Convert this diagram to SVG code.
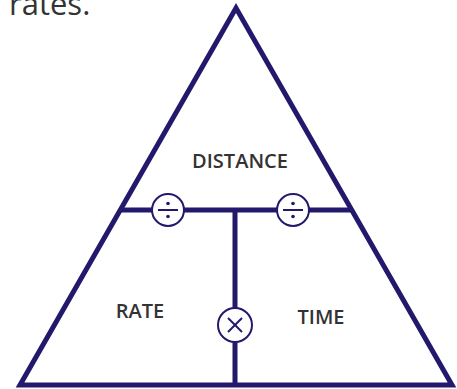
<svg xmlns="http://www.w3.org/2000/svg" width="457" height="389" viewBox="0 0 457 389">
<style>
.edge{fill:none;stroke:#23196c;stroke-width:5}
.op{fill:#fff;stroke:#23196c;stroke-width:2}
.sym{fill:none;stroke:#23196c;stroke-width:2}
.dot{fill:#23196c}
.lbl{font-family:"Open Sans","Liberation Sans",sans-serif;font-weight:600;font-size:20px;fill:#333;text-anchor:middle}
.cap{font-family:"Open Sans","Liberation Sans",sans-serif;font-size:31px;fill:#333}
</style>
<rect width="457" height="389" fill="#fff"/>
<text class="cap" x="9" y="15">rates.</text>
<g id="connectors">
<polygon class="edge" points="20,385 236,8 452,385" stroke-linejoin="miter"/>
<line class="edge" x1="120" y1="210" x2="352" y2="210"/>
<line class="edge" x1="235" y1="210" x2="235" y2="385"/>
</g>
<g id="divide-left">
<circle class="op" cx="168" cy="210" r="16"/>
<line class="sym" x1="158" y1="210" x2="178" y2="210"/>
<circle class="dot" cx="168" cy="203.5" r="1.8"/>
<circle class="dot" cx="168" cy="216.5" r="1.8"/>
</g>
<g id="divide-right">
<circle class="op" cx="293" cy="210" r="16"/>
<line class="sym" x1="283" y1="210" x2="303" y2="210"/>
<circle class="dot" cx="293" cy="203.5" r="1.8"/>
<circle class="dot" cx="293" cy="216.5" r="1.8"/>
</g>
<g id="multiply">
<circle class="op" cx="235" cy="325" r="17"/>
<line class="sym" x1="228" y1="318" x2="242" y2="332"/>
<line class="sym" x1="242" y1="318" x2="228" y2="332"/>
</g>
<g id="distance"><text class="lbl" x="240" y="168">DISTANCE</text></g>
<g id="rate"><text class="lbl" x="140" y="318">RATE</text></g>
<g id="time"><text class="lbl" x="321" y="324">TIME</text></g>
</svg>
